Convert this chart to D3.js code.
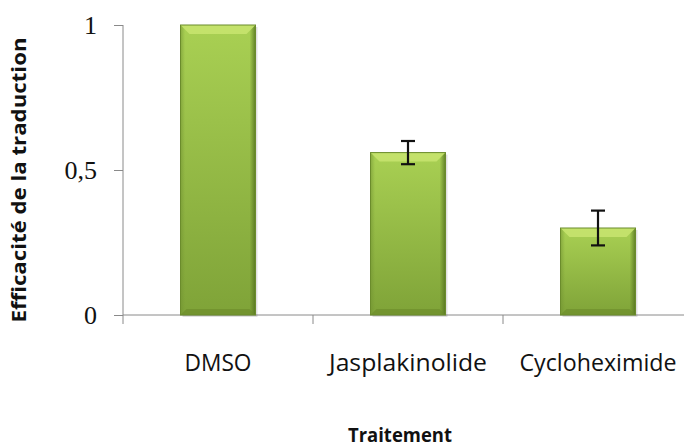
<!DOCTYPE html>
<html><head><meta charset="utf-8">
<script src="https://cdn.jsdelivr.net/npm/d3@7"></script>
<style>html,body{margin:0;padding:0;background:#fff;}svg{display:block;}</style>
</head><body>
<script>
const categories = ["DMSO", "Jasplakinolide", "Cycloheximide"];
const values = [1.0, 0.56, 0.30];
const errors = [0, 0.04, 0.06];
const yTicks = [0, 0.5, 1];
const yTickLabels = ["0", "0,5", "1"];

const W = 684, H = 448;
const svg = d3.select("body").append("svg").attr("width", W).attr("height", H);

const x = d3.scaleBand().domain(categories).range([123, 693]).paddingInner(0).paddingOuter(0);
const y = d3.scaleLinear().domain([0, 1]).range([315, 25]);

const defs = svg.append("defs");
const g1 = defs.append("linearGradient").attr("id", "barGrad").attr("x1", 0).attr("y1", 0).attr("x2", 0).attr("y2", 1);
g1.append("stop").attr("offset", "0%").attr("stop-color", "#a9d053");
g1.append("stop").attr("offset", "100%").attr("stop-color", "#7fa338");
const g2 = defs.append("linearGradient").attr("id", "sideGrad").attr("x1", 0).attr("y1", 0).attr("x2", 1).attr("y2", 0);
g2.append("stop").attr("offset", "0%").attr("stop-color", "#6f9030").attr("stop-opacity", 0.55);
g2.append("stop").attr("offset", "6%").attr("stop-color", "#6f9030").attr("stop-opacity", 0);
g2.append("stop").attr("offset", "92%").attr("stop-color", "#5a7822").attr("stop-opacity", 0);
g2.append("stop").attr("offset", "100%").attr("stop-color", "#4e6b1c").attr("stop-opacity", 0.8);

// Axes
const yAxis = d3.axisLeft(y).tickValues(yTicks).tickFormat((d, i) => yTickLabels[i]).tickSize(9).tickPadding(17);
const ya = svg.append("g").attr("transform", "translate(123,0)").call(yAxis);
ya.select(".domain").attr("stroke", "#8a8a8a").attr("d", "M0,25V315");
ya.selectAll(".tick line").attr("stroke", "#8a8a8a");
ya.selectAll(".tick text").attr("font-family", "Liberation Serif, DejaVu Serif, serif").attr("font-size", 26).attr("fill", "#111");

const xAxis = d3.axisBottom(x).tickSize(0).tickPadding(0).tickFormat(() => "");
const xa = svg.append("g").attr("transform", "translate(0,315)").call(xAxis);
xa.select(".domain").attr("stroke", "#8a8a8a").attr("d", "M123,0H693");
const bounds = categories.map(c => x(c)).concat([x(categories[categories.length - 1]) + x.bandwidth()]);
svg.append("g").selectAll("line").data(bounds).join("line")
  .attr("x1", d => d).attr("x2", d => d).attr("y1", 315).attr("y2", 324)
  .attr("stroke", "#8a8a8a");

// Bars
const bw = 75;
const bars = svg.append("g");
categories.forEach((c, i) => {
  const cx = x(c) + x.bandwidth() / 2;
  const x0 = cx - bw / 2, top = y(values[i]), bot = y(0);
  bars.append("rect").attr("x", x0 + 2).attr("y", top + 2).attr("width", bw).attr("height", bot - top)
    .attr("fill", "#000").attr("opacity", 0.12);
  bars.append("rect").attr("x", x0).attr("y", top).attr("width", bw).attr("height", bot - top).attr("fill", "url(#barGrad)");
  bars.append("rect").attr("x", x0).attr("y", top).attr("width", bw).attr("height", bot - top).attr("fill", "url(#sideGrad)");
  bars.append("path").attr("d", `M${x0},${top}H${x0 + bw}L${x0 + bw - 9},${top + 9}H${x0 + 9}Z`).attr("fill", "#c6e36e").attr("opacity", 0.9);
  bars.append("path").attr("d", `M${x0},${bot}H${x0 + bw}L${x0 + bw - 6},${bot - 6}H${x0 + 6}Z`).attr("fill", "#6a8b2a").attr("opacity", 0.6);
  bars.append("rect").attr("x", x0).attr("y", top).attr("width", bw).attr("height", bot - top)
    .attr("fill", "none").attr("stroke", "#6b8c2c").attr("stroke-width", 1);
});

// Error bars
const eb = svg.append("g").attr("stroke", "#111").attr("stroke-width", 2.2);
categories.forEach((c, i) => {
  if (!errors[i]) return;
  const cx = x(c) + x.bandwidth() / 2;
  const hi = y(values[i] + errors[i]), lo = y(values[i] - errors[i]);
  eb.append("line").attr("x1", cx).attr("x2", cx).attr("y1", hi).attr("y2", lo);
  eb.append("line").attr("x1", cx - 7).attr("x2", cx + 7).attr("y1", hi).attr("y2", hi);
  eb.append("line").attr("x1", cx - 7).attr("x2", cx + 7).attr("y1", lo).attr("y2", lo);
});

// Category labels
const labelWidths = [67, 158, 157];
svg.append("g").selectAll("text").data(categories).join("text")
  .attr("x", d => x(d) + x.bandwidth() / 2).attr("y", 371)
  .attr("text-anchor", "middle")
  .attr("font-family", "Open Sans, Liberation Sans, sans-serif").attr("font-size", 23).attr("fill", "#111")
  .attr("textLength", (d, i) => labelWidths[i]).attr("lengthAdjust", "spacingAndGlyphs")
  .text(d => d);

// Axis titles
svg.append("text").attr("x", 400).attr("y", 442).attr("text-anchor", "middle")
  .attr("font-family", "Open Sans, Liberation Sans, sans-serif").attr("font-weight", "bold").attr("font-size", 20).attr("fill", "#111")
  .attr("textLength", 104).attr("lengthAdjust", "spacingAndGlyphs")
  .text("Traitement");
svg.append("text").attr("transform", "translate(26,180) rotate(-90)").attr("text-anchor", "middle")
  .attr("font-family", "Open Sans, Liberation Sans, sans-serif").attr("font-weight", "bold").attr("font-size", 20).attr("fill", "#111")
  .attr("textLength", 285).attr("lengthAdjust", "spacingAndGlyphs")
  .text("Efficacité de la traduction");
</script>
</body></html>
